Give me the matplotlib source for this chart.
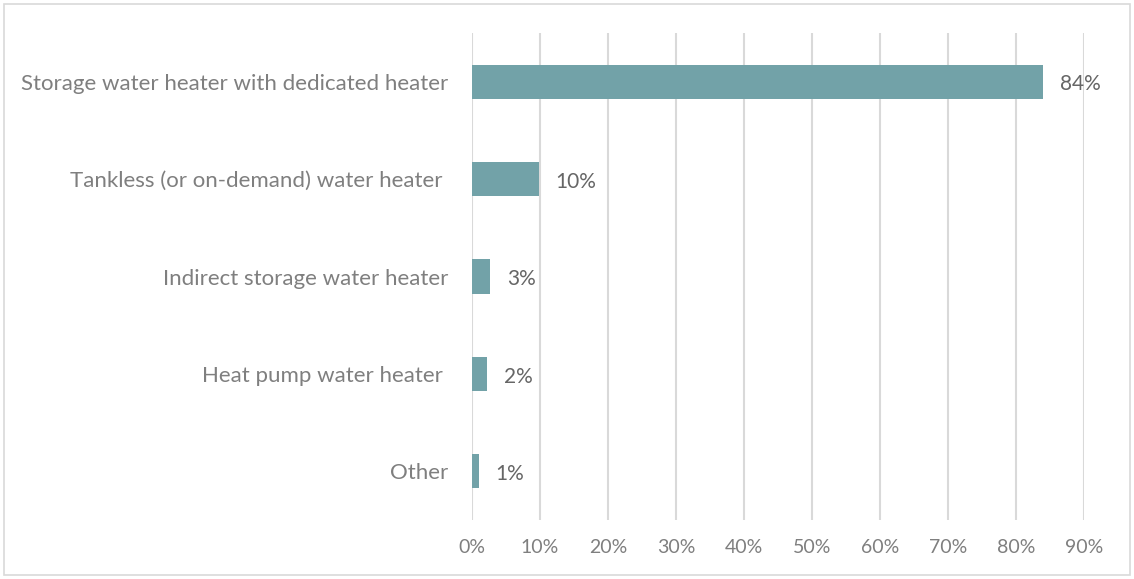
import matplotlib.pyplot as plt
from matplotlib.patches import Rectangle

categories = ["Storage water heater with dedicated heater",
              "Tankless (or on-demand) water heater ",
              "Indirect storage water heater",
              "Heat pump water heater ",
              "Other"]
shares = [84.0, 9.8, 2.7, 2.2, 1.0]
share_labels = ["84%", "10%", "3%", "2%", "1%"]
xticks = [0, 10, 20, 30, 40, 50, 60, 70, 80, 90]

BAR = "#72a2a8"
TXT = "#7f7f7f"
GRID = "#d9d9d9"

plt.rcParams['font.family'] = ['Lato', 'DejaVu Sans']

fig = plt.figure(figsize=(11.34, 5.79), dpi=100)
ax = fig.add_axes([472/1134, 1 - 520/579, (1084-472)/1134, (520-33)/579])

y = list(range(len(categories)))
ax.barh(y, shares, height=0.35, color=BAR, zorder=3)
for yi, v, lab in zip(y, shares, share_labels):
    ax.annotate(lab, (v, yi), xytext=(12, -2), textcoords="offset points",
                va="center", ha="left", fontsize=15, color="#666666")

ax.set_xlim(0, 90)
ax.set_ylim(4.5, -0.5)
ax.set_xticks(xticks)
ax.set_xticklabels([f"{t}%" for t in xticks], fontsize=14, color=TXT)
ax.set_yticks(y)
ax.set_yticklabels(categories, fontsize=16, color=TXT)
ax.tick_params(axis="y", length=0, pad=17)
ax.tick_params(axis="x", length=0, pad=14)
ax.grid(axis="x", color=GRID, linewidth=1.5, zorder=0)
for s in ax.spines.values():
    s.set_visible(False)

fig.patches.append(Rectangle((4/1134, 4/579), 1126/1134, 571/579, transform=fig.transFigure,
                             fill=False, edgecolor="#d9d9d9", linewidth=1.2))

fig.savefig("out.png", dpi=100)
